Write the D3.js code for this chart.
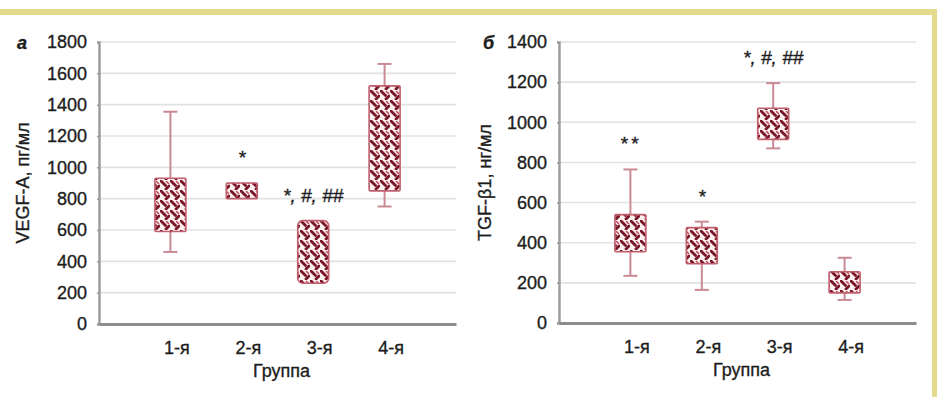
<!DOCTYPE html>
<html>
<head>
<meta charset="utf-8">
<script src="https://cdn.jsdelivr.net/npm/d3@7"></script>
<style>
  html, body { margin: 0; padding: 0; background: #fff; }
  svg { display: block; font-family: "Liberation Sans", Arial, sans-serif; }
  svg text { stroke: #1d1d1d; stroke-width: 0.35px; }
</style>
</head>
<body>
<svg id="chart" width="937" height="397"></svg>
<script>
const groups = ['1-я', '2-я', '3-я', '4-я'];

// panel а: VEGF-A
const vegfMin = [460, 800, 260, 750];
const vegfQ1 = [590, 800, 260, 850];
const vegfQ3 = [930, 900, 660, 1520];
const vegfMax = [1355, 900, 660, 1660];
const vegfMarks = ['', '*', '*, #, ##', ''];
const vegfTicks = [0, 200, 400, 600, 800, 1000, 1200, 1400, 1600, 1800];

// panel б: TGF-β1
const tgfMin = [235, 165, 870, 115];
const tgfQ1 = [355, 295, 915, 150];
const tgfQ3 = [540, 475, 1070, 255];
const tgfMax = [765, 505, 1195, 325];
const tgfMarks = ['**', '*', '*, #, ##', ''];
const tgfTicks = [0, 200, 400, 600, 800, 1000, 1200, 1400];

const svg = d3.select('#chart');

// yellow frame
svg.append('rect').attr('x', 0).attr('y', 9).attr('width', 937).attr('height', 6).attr('fill', '#e4da8c');
svg.append('rect').attr('x', 932).attr('y', 9).attr('width', 5).attr('height', 388).attr('fill', '#e4da8c');

// weave fill
const defs = svg.append('defs');
const pat = defs.append('pattern').attr('id', 'weave').attr('patternUnits', 'userSpaceOnUse')
  .attr('width', 10).attr('height', 10);
pat.append('rect').attr('width', 10).attr('height', 10).attr('fill', '#fcf0f1');
[[1, 1, 5.5, 5.5], [6, 9, 9, 6]].forEach(l => {
  pat.append('line').attr('x1', l[0]).attr('y1', l[1]).attr('x2', l[2]).attr('y2', l[3])
    .attr('stroke', '#781627').attr('stroke-width', 2.8).attr('stroke-linecap', 'round');
});
pat.append('line').attr('x1', 6.5).attr('y1', 1.5).attr('x2', 8.5).attr('y2', 3.5)
  .attr('stroke', '#c24a5d').attr('stroke-width', 1.6).attr('stroke-linecap', 'round');

function panel(cfg) {
  const x = d3.scalePoint().domain(groups).range([cfg.left, cfg.right]).padding(1);
  const y = d3.scaleLinear().domain([0, cfg.max]).range([cfg.bottom, cfg.top]);
  const g = svg.append('g');

  // grid
  g.selectAll('.grid').data(cfg.ticks.filter(t => t > 0)).join('line')
    .attr('x1', cfg.left).attr('x2', cfg.right)
    .attr('y1', d => y(d)).attr('y2', d => y(d))
    .attr('stroke', '#e2e2e2').attr('stroke-width', 1.6);

  // y axis
  const ya = g.append('g').attr('transform', `translate(${cfg.left},0)`)
    .call(d3.axisLeft(y).tickValues(cfg.ticks).tickSize(2).tickPadding(10).tickFormat(d3.format('d')));
  ya.select('.domain').attr('stroke', '#9a9a9a').attr('stroke-width', 2.4);
  ya.selectAll('.tick line').attr('stroke', '#9a9a9a').attr('stroke-width', 1.5);
  ya.selectAll('text').style('font-size', '18px').attr('fill', '#1d1d1d');

  // x axis
  const xa = g.append('g').attr('transform', `translate(0,${cfg.bottom})`)
    .call(d3.axisBottom(x).tickSize(0).tickPadding(17).tickSizeOuter(0));
  xa.select('.domain').attr('stroke', '#8c8c8c').attr('stroke-width', 3);
  xa.selectAll('text').style('font-size', '18px').attr('fill', '#1d1d1d').attr('dx', 6);

  // whiskers
  const bw = 31;
  const rows = groups.map((k, i) => ({ k, lo: cfg.min[i], q1: cfg.q1[i], q3: cfg.q3[i], hi: cfg.maxv[i], m: cfg.marks[i] }));
  const wg = g.selectAll('.wh').data(rows.filter(d => d.hi > d.q3 || d.lo < d.q1)).join('g');
  wg.append('line').attr('x1', d => x(d.k)).attr('x2', d => x(d.k))
    .attr('y1', d => y(d.lo)).attr('y2', d => y(d.hi))
    .attr('stroke', '#c98a94').attr('stroke-width', 2);
  wg.filter(d => d.hi > d.q3).append('line').attr('x1', d => x(d.k) - 7).attr('x2', d => x(d.k) + 7)
    .attr('y1', d => y(d.hi)).attr('y2', d => y(d.hi)).attr('stroke', '#c98a94').attr('stroke-width', 2);
  wg.filter(d => d.lo < d.q1).append('line').attr('x1', d => x(d.k) - 7).attr('x2', d => x(d.k) + 7)
    .attr('y1', d => y(d.lo)).attr('y2', d => y(d.lo)).attr('stroke', '#c98a94').attr('stroke-width', 2);

  // boxes
  g.selectAll('.box').data(rows).join('rect')
    .attr('x', d => x(d.k) - bw / 2).attr('width', bw)
    .attr('y', d => y(d.q3)).attr('height', d => y(d.q1) - y(d.q3))
    .attr('rx', (d, i) => i === 2 && cfg.round ? 5 : 1)
    .attr('fill', 'url(#weave)').attr('stroke', '#c0606e').attr('stroke-width', 1.6);

  // significance marks
  g.selectAll('.mark').data(rows.filter(d => d.m)).join('text')
    .attr('x', d => x(d.k)).attr('y', d => y(d.hi) - 19)
    .attr('text-anchor', 'middle').style('font-size', '19px').style('font-style', 'italic')
    .style('letter-spacing', d => d.m === '**' ? '3px' : '0px')
    .attr('fill', '#1d1d1d').text(d => d.m);

  // titles
  svg.append('text').attr('transform', `translate(${cfg.titleX},${(cfg.top + cfg.bottom) / 2}) rotate(-90)`)
    .attr('text-anchor', 'middle').style('font-size', '18px').attr('fill', '#1d1d1d').text(cfg.title);
  svg.append('text').attr('x', (cfg.left + cfg.right) / 2 + 4).attr('y', cfg.bottom + 53)
    .attr('text-anchor', 'middle').style('font-size', '18px').attr('fill', '#1d1d1d').text('Группа');
  svg.append('text').attr('x', cfg.letterX).attr('y', cfg.top + 7)
    .style('font-size', '18px').style('font-weight', 'bold').style('font-style', 'italic')
    .attr('fill', '#1d1d1d').text(cfg.letter);
}

panel({ left: 99, right: 456, top: 42, bottom: 324, max: 1800, ticks: vegfTicks,
  min: vegfMin, q1: vegfQ1, q3: vegfQ3, maxv: vegfMax, marks: vegfMarks, round: true,
  title: 'VEGF-A, пг/мл', titleX: 29, letter: 'а', letterX: 17 });
panel({ left: 559, right: 916, top: 42, bottom: 323, max: 1400, ticks: tgfTicks,
  min: tgfMin, q1: tgfQ1, q3: tgfQ3, maxv: tgfMax, marks: tgfMarks, round: false,
  title: 'TGF-β1, нг/мл', titleX: 491, letter: 'б', letterX: 483 });
</script>
</body>
</html>
